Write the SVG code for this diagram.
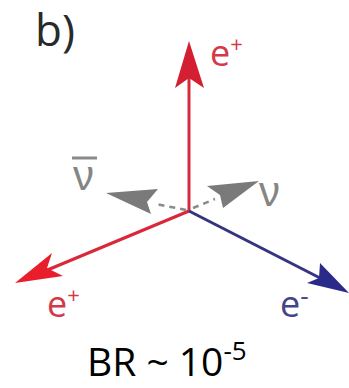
<svg xmlns="http://www.w3.org/2000/svg" width="349" height="388" viewBox="0 0 349 388">
<style>
.lbl{font-family:"Open Sans","Liberation Sans",sans-serif}
.nu{font-family:"Liberation Sans","DejaVu Sans",sans-serif;fill:#858585}
.red{fill:#d23a4a}
.blue{fill:#44448a}
.dash{stroke:#8a8a8a;stroke-width:2.5;stroke-dasharray:6,5}
</style>
<rect width="349" height="388" fill="#ffffff"/>
<g id="title"><text class="lbl" x="35" y="46" font-size="44" fill="#2a2a2a">b)</text></g>
<g id="connectors">
  <line x1="189" y1="211" x2="189" y2="75" stroke="#d42a3a" stroke-width="3"/>
  <polygon points="189,41 175,88 189,78 204,88" fill="#d41e32"/>
  <line x1="189" y1="211" x2="45" y2="271" stroke="#d8283a" stroke-width="3"/>
  <polygon points="15,283 52,253 47,268 63,276" fill="#e81e2c"/>
  <line x1="189" y1="211" x2="322" y2="279" stroke="#35357f" stroke-width="3"/>
  <polygon points="349,293 320,263 319,278 307,283" fill="#2a2a8a"/>
  <line x1="186" y1="210" x2="156" y2="204" class="dash"/>
  <polygon points="106,193 158,189 147,202 151,214" fill="#7a7a7a"/>
  <line x1="193" y1="208" x2="215" y2="199" class="dash"/>
  <polygon points="259,181 207,186 220,195 223,208" fill="#7a7a7a"/>
</g>
<g id="ep-top"><text class="lbl red" x="210" y="66" font-size="36">e<tspan font-size="22" dy="-14">+</tspan></text></g>
<g id="nubar"><text class="nu" x="73" y="190" font-size="42">ν</text><line x1="72" y1="158" x2="97" y2="158" stroke="#8a8a8a" stroke-width="3"/></g>
<g id="nu"><text class="nu" x="259" y="206" font-size="42">ν</text></g>
<g id="ep-bot"><text class="lbl red" x="47" y="317" font-size="36">e<tspan font-size="22" dy="-14">+</tspan></text></g>
<g id="em"><text class="lbl blue" x="280" y="317" font-size="36">e<tspan font-size="26" dy="-12">-</tspan></text></g>
<g id="br"><text class="lbl" x="87" y="376" font-size="39" fill="#000">BR ~ 10<tspan font-size="26" dy="-16">-5</tspan></text></g>
</svg>
